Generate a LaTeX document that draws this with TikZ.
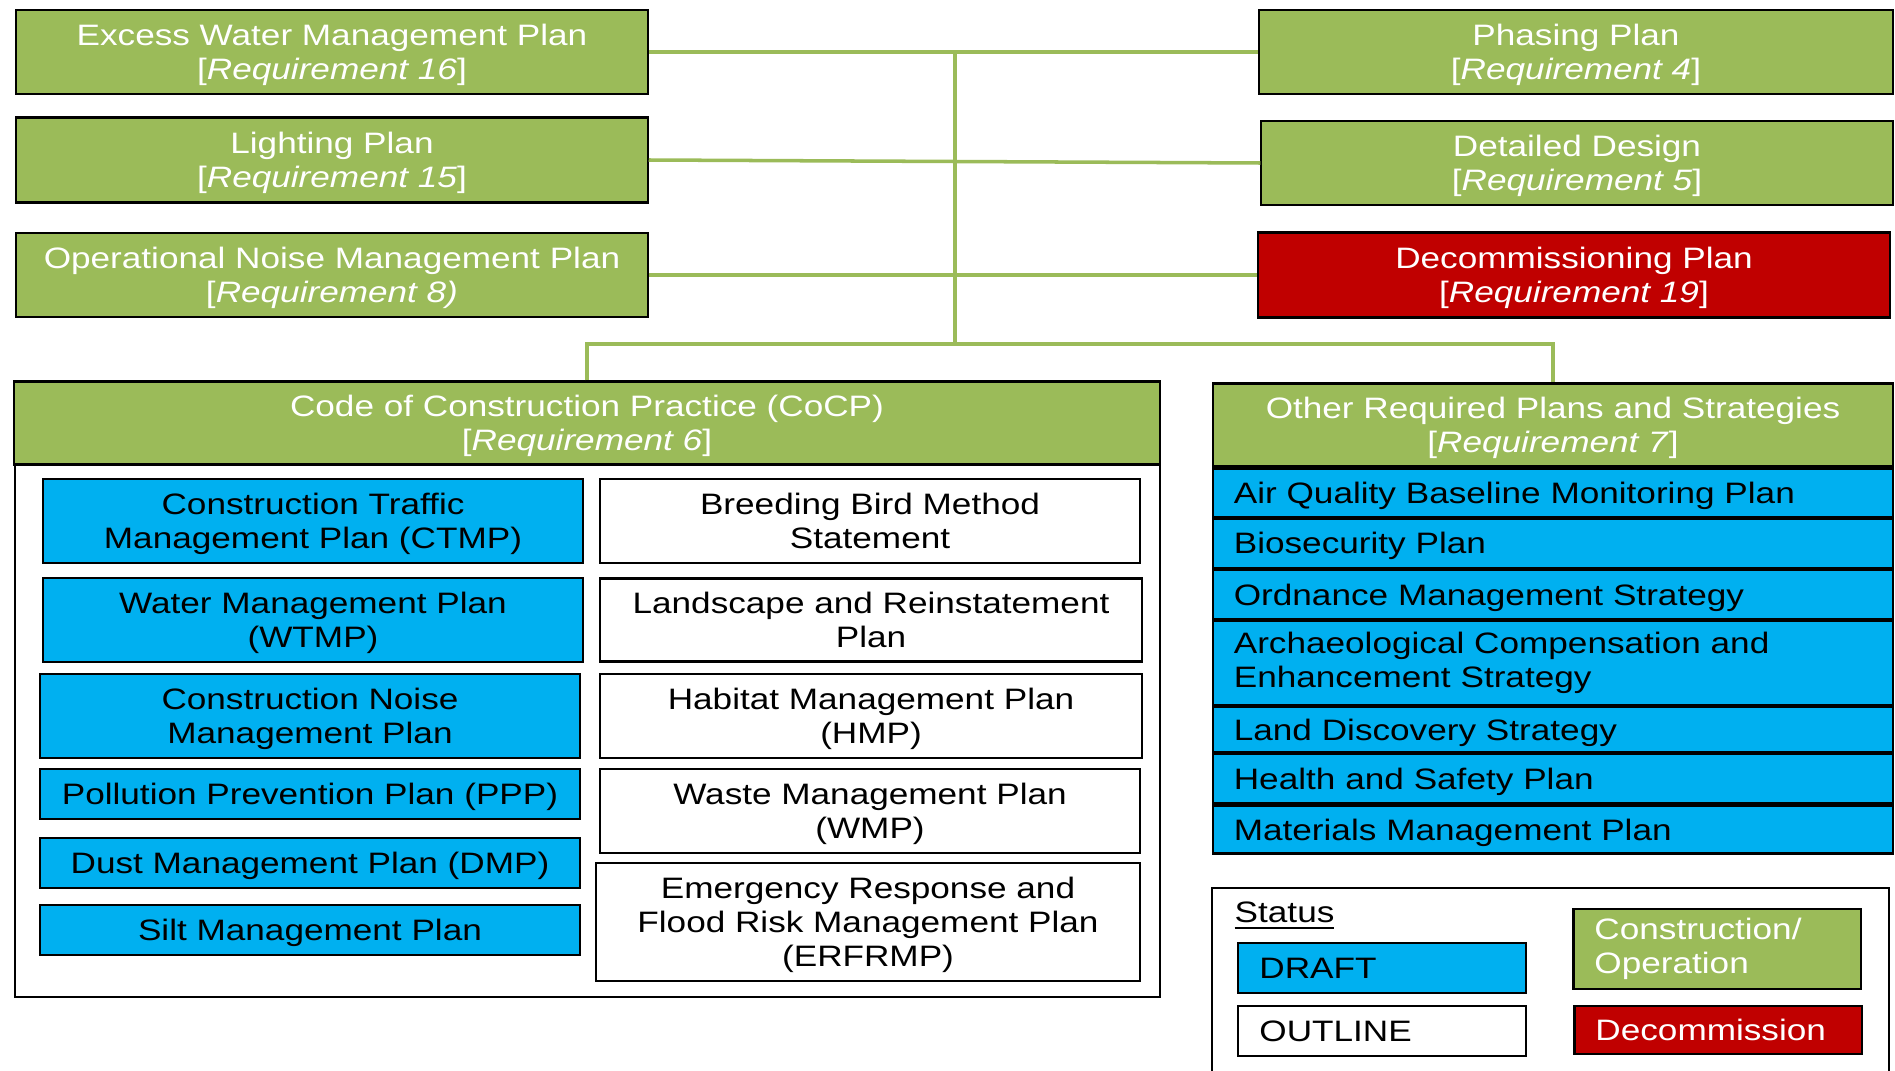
\documentclass[tikz,border=0pt]{standalone}
\usepackage{fontspec}
\setmainfont{Liberation Sans}[FakeStretch=1.19]
\usepackage{tikz}
\usetikzlibrary{positioning}
\definecolor{plangreen}{HTML}{9BBB59}
\definecolor{draftblue}{HTML}{00B0F0}
\definecolor{decomred}{HTML}{C00000}
\newcommand{\reqtag}[1]{{[}\textit{Requirement #1}]}

\begin{document}
\begin{tikzpicture}[x=0.01cm, y=-0.01cm,
                plan/.style={draw=black, line width=0.6pt, align=center, inner sep=0pt, font=\fontsize{8.4}{9.7}\selectfont},
                midplan/.style={plan, text depth=-1pt},
                greenplan/.style={midplan, fill=plangreen, text=white},
                redplan/.style={midplan, fill=decomred, text=white},
                draftplan/.style={midplan, fill=draftblue, text=black},
                outlineplan/.style={midplan, fill=white, text=black},
                listplan/.style={plan, fill=draftblue, align=left, text width=6.38cm, inner xsep=0.21cm, text depth=-1pt},
                keyplan/.style={plan, align=left, text width=2.45cm, inner xsep=0.21cm},
                link/.style={draw=plangreen, line width=1pt}]
                \useasboundingbox (0,0) rectangle (1895,1070);

                \node[greenplan, minimum width=6.31cm, minimum height=0.84cm] (excess) at (332,52) {Excess Water Management Plan\\\reqtag{16}};
                \node[greenplan, minimum width=6.31cm, minimum height=0.85cm] (lighting) at (332,160) {Lighting Plan\\\reqtag{15}};
                \node[greenplan, minimum width=6.31cm, minimum height=0.84cm] (opnoise) at (332,275) {Operational Noise Management Plan\\{[}\textit{Requirement 8)}};
                \node[greenplan, minimum width=6.34cm, minimum height=0.84cm] (phasing) at (1576,52) {Phasing Plan\\\reqtag{4}};
                \node[greenplan, minimum width=6.31cm, minimum height=0.84cm] (design) at (1577,163) {Detailed Design\\\reqtag{5}};
                \node[redplan, minimum width=6.31cm, minimum height=0.85cm] (decom) at (1574,275) {Decommissioning Plan\\\reqtag{19}};

                \draw[line width=0.6pt] (15,382) rectangle (1160,997);
                \node[greenplan, minimum width=11.45cm, minimum height=0.83cm] (cocp) at (587,423) {Code of Construction Practice (CoCP)\\\reqtag{6}};

                \node[draftplan, minimum width=5.39cm, minimum height=0.84cm] (ctmp) at (313,521) {Construction Traffic\\Management Plan (CTMP)};
                \node[draftplan, minimum width=5.39cm, minimum height=0.84cm] (wtmp) at (313,620) {Water Management Plan\\(WTMP)};
                \node[draftplan, minimum width=5.39cm, minimum height=0.84cm] (cnmp) at (310,716) {Construction Noise\\Management Plan};
                \node[draftplan, minimum width=5.39cm, minimum height=0.5cm] (ppp) at (310,794) {Pollution Prevention Plan (PPP)};
                \node[draftplan, minimum width=5.39cm, minimum height=0.5cm] (dmp) at (310,863) {Dust Management Plan (DMP)};
                \node[draftplan, minimum width=5.39cm, minimum height=0.5cm] (silt) at (310,930) {Silt Management Plan};

                \node[outlineplan, minimum width=5.39cm, minimum height=0.84cm] (bbms) at (870,521) {Breeding Bird Method\\Statement};
                \node[outlineplan, minimum width=5.41cm, minimum height=0.83cm] (lrp) at (871,620) {Landscape and Reinstatement\\Plan};
                \node[outlineplan, minimum width=5.41cm, minimum height=0.84cm] (hmp) at (871,716) {Habitat Management Plan\\(HMP)};
                \node[outlineplan, minimum width=5.39cm, minimum height=0.84cm] (wmp) at (870,811) {Waste Management Plan\\(WMP)};
                \node[outlineplan, minimum width=5.43cm, minimum height=1.18cm] (erfrmp) at (868,922) {Emergency Response and\\Flood Risk Management Plan\\(ERFRMP)};

                \node[greenplan, minimum width=6.8cm, minimum height=0.83cm] (other) at (1553,425) {Other Required Plans and Strategies\\\reqtag{7}};
                \node[listplan, minimum height=0.48cm, below=0pt of other] (aqbmp) {Air Quality Baseline Monitoring Plan};
                \node[listplan, minimum height=0.49cm, below=0pt of aqbmp] (biosec) {Biosecurity Plan};
                \node[listplan, minimum height=0.49cm, below=0pt of biosec] (ordnance) {Ordnance Management Strategy};
                \node[listplan, text depth={}, minimum height=0.84cm, below=0pt of ordnance] (archaeo) {Archaeological Compensation and\\Enhancement Strategy};
                \node[listplan, minimum height=0.45cm, below=0pt of archaeo] (landdisc) {Land Discovery Strategy};
                \node[listplan, minimum height=0.49cm, below=0pt of landdisc] (hsp) {Health and Safety Plan};
                \node[listplan, minimum height=0.48cm, below=0pt of hsp] (mmp) {Materials Management Plan};

                \draw[line width=0.6pt] (1212,1080) |- (1889,888) -- (1889,1080);
                \node[anchor=west, inner sep=0pt, font=\fontsize{8.4}{9.7}\selectfont] (status) at (1234,916) {\underline{Status}};
                \node[keyplan, fill=draftblue, minimum height=0.5cm] (keydraft) at (1382,968) {DRAFT};
                \node[keyplan, fill=white, minimum height=0.5cm] (keyoutline) at (1382,1031) {OUTLINE};
                \node[keyplan, fill=plangreen, text=white, minimum height=0.8cm] (keyconst) at (1717,949) {Construction/\\Operation};
                \node[keyplan, fill=decomred, text=white, minimum height=0.48cm] (keydecom) at (1718,1030) {Decommission};

                \coordinate (hub) at (955,344);
                \draw[link] (excess.east) -- (phasing.west);
                \draw[link] (lighting.east) -- (design.west);
                \draw[link] (opnoise.east) -- (decom.west);
                \draw[link] (hub |- excess.east) -- (hub);
                \draw[link] (cocp.north) |- (hub) -| (other.north);
\end{tikzpicture}
\end{document}
